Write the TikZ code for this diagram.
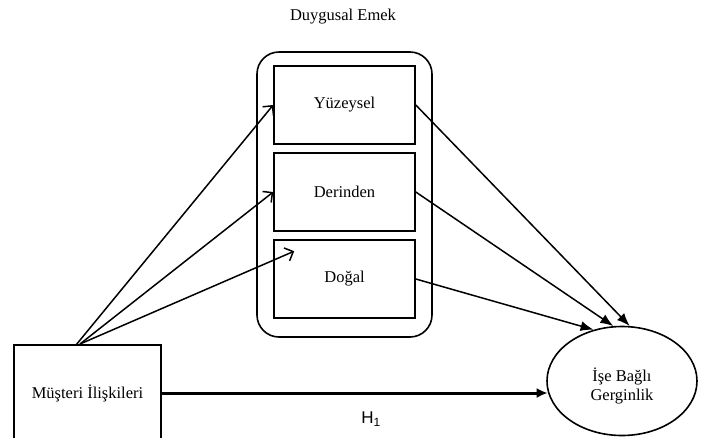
\documentclass[tikz,border=0pt]{standalone}
\usepackage{fontspec}
\setmainfont{Liberation Serif}
\newfontfamily\hsans{Liberation Sans}
\usetikzlibrary{shapes.geometric,arrows.meta,calc}
\tikzset{
  box/.style={draw, line width=1.6pt, rectangle, inner sep=0pt, minimum width=141pt, minimum height=78pt, font=\fontsize{16.5}{19}\selectfont},
  grp/.style={draw, line width=1.6pt, rectangle, rounded corners=22pt, inner sep=0pt, minimum width=175pt, minimum height=285pt},
  lbl/.style={font=\fontsize{16.5}{19}\selectfont, inner sep=0pt, align=center},
  inarrow/.style={line width=1.5pt, -{Straight Barb[length=7pt,width=14pt,line width=1.5pt]}},
  outarrow/.style={line width=1.5pt, -{Latex[length=13pt,width=10pt]}},
  mainarrow/.style={line width=3pt, -{Latex[length=11pt,width=10pt]}},
}
\begin{document}
\begin{tikzpicture}[x=1pt,y=-1pt]
\useasboundingbox (0,0) rectangle (707,437);
\clip (0,0) rectangle (707,437);
\fill[white] (0,0) rectangle (707,437);
% group
\node[grp] (grp) at (344.5,194.5) {};
\node[lbl] (title) at (343,17) {Duygusal Emek};
\node[box] (yuz) at (344.5,105) {Yüzeysel};
\node[box] (der) at (344.5,192) {Derinden};
\node[box] (dog) at (344.5,279) {Doğal};
% source box
\node[box, minimum width=147pt, minimum height=96pt] (mus) at (87.5,393) {Müşteri İlişkileri};
% outcome
\node[draw, ellipse, line width=1.6pt, minimum width=150pt, minimum height=109pt, inner sep=0pt] (ell) at (622,381) {};
\node[lbl] (elltxt) at (622,386) {İşe Bağlı\\Gerginlik};
% connectors
\coordinate (s1) at (76,345);
\coordinate (s2) at (80,344);
\coordinate (s3) at (80,344);
\coordinate (dogtip) at ($(dog.north west)+(21,12)$);
\draw[inarrow] (s1) -- (yuz.west);
\draw[inarrow] (s2) -- (der.west);
\draw[inarrow] (s3) -- (dogtip);
\draw[outarrow] (yuz.east) -- (ell.82);
\draw[outarrow] (der.east) -- (ell.99.5);
\draw[outarrow] (dog.east) -- (ell.119);
\draw[mainarrow] (mus.east) -- ($(mus.east -| ell.west)+(1.5,0)$);
\node[inner sep=0pt, font=\hsans\fontsize{17}{20}\selectfont] (h1) at (371,419) {H\textsubscript{1}};
\end{tikzpicture}
\end{document}
